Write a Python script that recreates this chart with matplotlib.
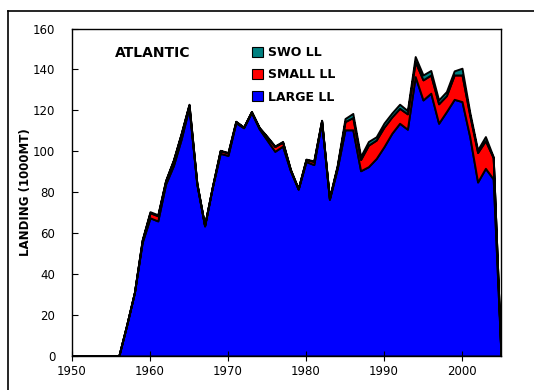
import matplotlib
matplotlib.use("Agg")
import matplotlib.pyplot as plt
from matplotlib.patches import Patch
from matplotlib.lines import Line2D
import numpy as np

plt.rcParams['font.family'] = ['DejaVu Sans']

years = list(range(1950, 2006))

# Longline landings in the Atlantic (1000 MT), by fleet component
large_ll = [0, 0, 0, 0, 0, 0, 0, 15, 31, 55.5, 67.5, 66, 84, 93, 106, 121.5,
            84, 63.5, 82.5, 99, 98, 114, 111.5, 119, 111, 105.5, 100, 102.5,
            90.5, 81.5, 95, 93.5, 114.5, 76.5, 91.5, 110.5, 110.5, 90.5, 92.5,
            96.5, 102.3, 108.8, 113.7, 110.8, 136.5, 125.1, 128.4, 113.7,
            119.4, 125.4, 124.3, 107, 85, 91.7, 86.5, 0]
small_ll = [0, 0, 0, 0, 0, 0, 0, 0, 0, 1.0, 2.5, 2.5, 1.5, 2.5, 2.5, 1.2,
            0.5, 0.3, 0.3, 1.3, 1.2, 0.5, 0.3, 0.3, 0.5, 1.5, 2.3, 2.0,
            0.5, 0.2, 1.0, 1.5, 0.5, 0.5, 1.0, 4.0, 6.0, 5.5, 10.5,
            9.0, 9.5, 8.0, 7.3, 7.5, 7.3, 9.8, 8.9, 9.5,
            7.8, 11.9, 13.0, 10.5, 14.4, 13.5, 10.4, 0]
swo_ll = [0, 0, 0, 0, 0, 0, 0, 0, 0, 0.3, 0.5, 0.5, 0.3, 0.3, 0.3, 0.3,
          0.2, 0, 0, 0.2, 0.2, 0.2, 0, 0.2, 0.2, 0.3, 0.3, 0.3,
          0.2, 0, 0.2, 0.3, 0.2, 0.2, 0.6, 1.5, 2.0, 1.5, 1.8,
          1.6, 2.0, 1.9, 2.0, 1.6, 2.5, 2.4, 2.2, 1.9,
          2.0, 2.0, 3.3, 1.5, 1.3, 2.0, 0.5, 0]

series_labels = ["LARGE LL", "SMALL LL", "SWO LL"]
series_colors = ["#0000FF", "#FF0000", "#008080"]

fig = plt.figure(figsize=(5.34, 3.90), dpi=100)
ax = fig.add_axes([72 / 534, 34 / 390, 429 / 534, 327.5 / 390])

ax.stackplot(years, large_ll, small_ll, swo_ll, colors=series_colors,
             edgecolor="black", linewidth=1.4)

ax.set_xlim(1950, 2005)
ax.set_ylim(0, 160)
ax.set_xticks(range(1950, 2001, 10))
ax.set_yticks(range(0, 161, 20))
ax.tick_params(axis="y", direction="in", length=4, width=0.8, labelsize=8.5, pad=12)
ax.tick_params(axis="x", direction="inout", length=7, width=0.8, labelsize=8.5, pad=3)
for sp in ax.spines.values():
    sp.set_linewidth(1.0)

ax.set_ylabel("LANDING (1000MT)", fontsize=8.5, fontweight="bold", labelpad=1)

ax.text(0.10, 0.925, "ATLANTIC", transform=ax.transAxes, fontsize=10,
        fontweight="bold", va="center", ha="left")

handles = [Patch(facecolor=c, edgecolor="black", linewidth=0.8)
           for c in series_colors[::-1]]
ax.legend(handles, series_labels[::-1], loc="upper left",
          bbox_to_anchor=(0.409, 0.962), frameon=False,
          handlelength=0.85, handleheight=0.85, handletextpad=0.4,
          labelspacing=0.75, borderaxespad=0,
          prop={"weight": "bold", "size": 9})

# Outer frame of the figure (left and top edges)
x0, y0 = 8 / 534, 1 - 11 / 390
fig.add_artist(Line2D([x0, x0], [0, y0], transform=fig.transFigure,
                      color="black", linewidth=1.2))
fig.add_artist(Line2D([x0, 1], [y0, y0], transform=fig.transFigure,
                      color="black", linewidth=1.2))

fig.savefig("out.png", dpi=100)
